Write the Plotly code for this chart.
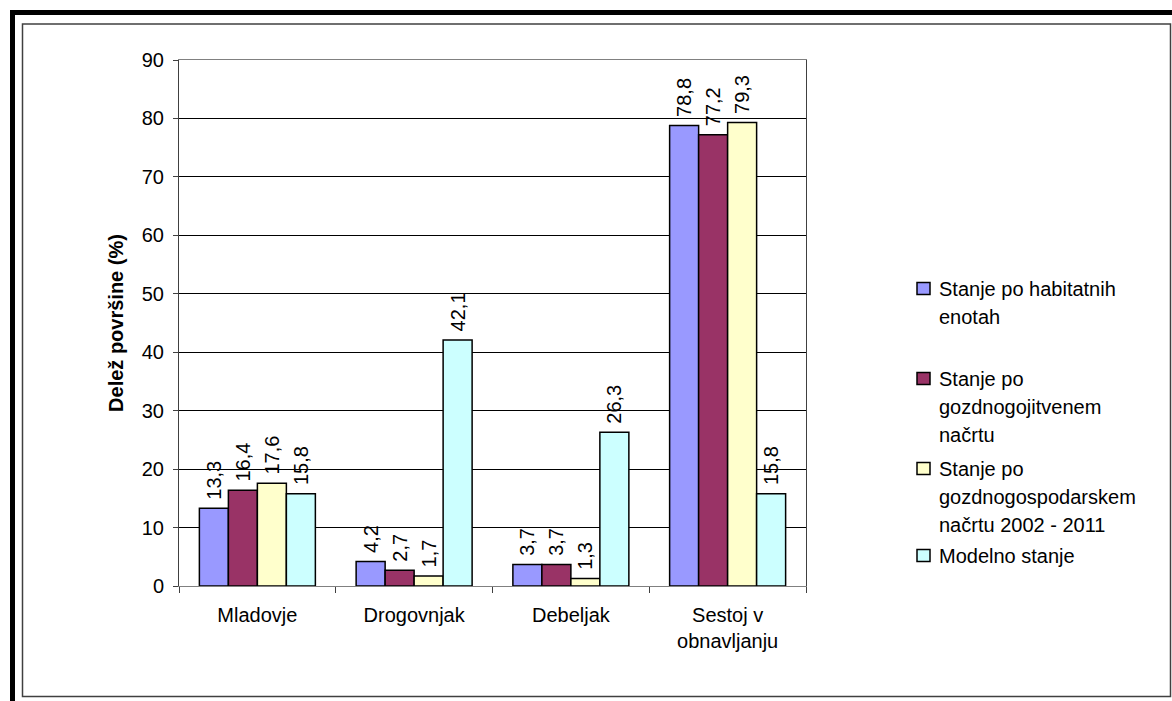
import plotly.graph_objects as go

# Categories (stand developmental stages) and series shares in %
categories = ["Mladovje", "Drogovnjak", "Debeljak", "Sestoj v<br>obnavljanju"]
series_names = [
    "Stanje po habitatnih<br>enotah",
    "Stanje po<br>gozdnogojitvenem<br>načrtu",
    "Stanje po<br>gozdnogospodarskem<br>načrtu 2002 - 2011",
    "Modelno stanje",
]
habitatne_enote = [13.3, 4.2, 3.7, 78.8]
gozdnogojitveni = [16.4, 2.7, 3.7, 77.2]
gozdnogospodarski = [17.6, 1.7, 1.3, 79.3]
modelno = [15.8, 42.1, 26.3, 15.8]
series_values = [habitatne_enote, gozdnogojitveni, gozdnogospodarski, modelno]
colors = ["#9999FF", "#993366", "#FFFFCC", "#CCFFFF"]

y_ticks = list(range(0, 91, 10))

FONT = "Liberation Sans, Arial, sans-serif"
FS = 20
W, H = 1172, 701
ML, MR, MT, MB = 179, 366, 60, 115


def px(x):
    return (x - ML) / (W - ML - MR)


def py(y):
    return (H - MB - y) / (H - MT - MB)


fig = go.Figure()
for name, vals, col in zip(series_names, series_values, colors):
    fig.add_trace(go.Bar(
        x=categories, y=vals, name=name.replace("<br>", " "),
        marker=dict(color=col, line=dict(color="black", width=1.5)),
        # a leading no-break space keeps the rotated value clear of the bar top
        text=["\u00a0" + f"{v:.1f}".replace(".", ",") for v in vals],
        textposition="outside", textangle=-90, constraintext="none",
        textfont=dict(family=FONT, size=FS, color="black"),
        cliponaxis=False, showlegend=False,
    ))

shapes = []
annotations = []

# outer frame: heavy top/left rule and thin inner box
shapes.append(dict(type="line", xref="paper", yref="paper", x0=px(10), x1=px(1172),
                   y0=py(12.5), y1=py(12.5), line=dict(color="black", width=5)))
shapes.append(dict(type="line", xref="paper", yref="paper", x0=px(12.5), x1=px(12.5),
                   y0=py(10), y1=py(701), line=dict(color="black", width=5)))
shapes.append(dict(type="rect", xref="paper", yref="paper", x0=px(22.5), x1=px(1170.5),
                   y0=py(24), y1=py(696.5), line=dict(color="#404040", width=1.5)))

# legend drawn by hand: swatch + wrapped label lines
marker_y = [288.5, 378.5, 468.5, 555.5]
line_step = 28
for name, col, my in zip(series_names, colors, marker_y):
    shapes.append(dict(type="rect", xref="paper", yref="paper",
                       x0=px(917), x1=px(930), y0=py(my - 6), y1=py(my + 6),
                       fillcolor=col, line=dict(color="black", width=1.5)))
    for k, line in enumerate(name.split("<br>")):
        annotations.append(dict(xref="paper", yref="paper", x=px(937), y=py(my + k * line_step),
                                xanchor="left", yanchor="middle", showarrow=False, text=line,
                                font=dict(family=FONT, size=FS, color="black")))

fig.update_layout(
    width=W, height=H,
    margin=dict(l=ML, r=MR, t=MT, b=MB),
    paper_bgcolor="white", plot_bgcolor="white",
    barmode="group", bargap=0.26, bargroupgap=0,
    separators=",.",
    font=dict(family=FONT, size=FS, color="black"),
    shapes=shapes, annotations=annotations,
    showlegend=False,
)
fig.update_xaxes(
    type="category", tickson="boundaries", ticks="outside", ticklen=6,
    tickcolor="#404040", showline=True, linecolor="#808080", linewidth=1,
    mirror=True, showgrid=False, ticklabelstandoff=11,
    tickfont=dict(family=FONT, size=FS, color="black"),
)
fig.update_yaxes(
    range=[0, 90], tickvals=y_ticks, ticks="outside", ticklen=5, tickcolor="#404040",
    showline=True, linecolor="#404040", linewidth=1, mirror=True,
    showgrid=True, gridcolor="black", gridwidth=1, zeroline=False,
    ticklabelstandoff=5,
    tickfont=dict(family=FONT, size=FS, color="black"),
    title=dict(text="<b>Delež površine (%)</b>", standoff=12,
               font=dict(family=FONT, size=FS, color="black")),
)

fig.write_html("out.html")
